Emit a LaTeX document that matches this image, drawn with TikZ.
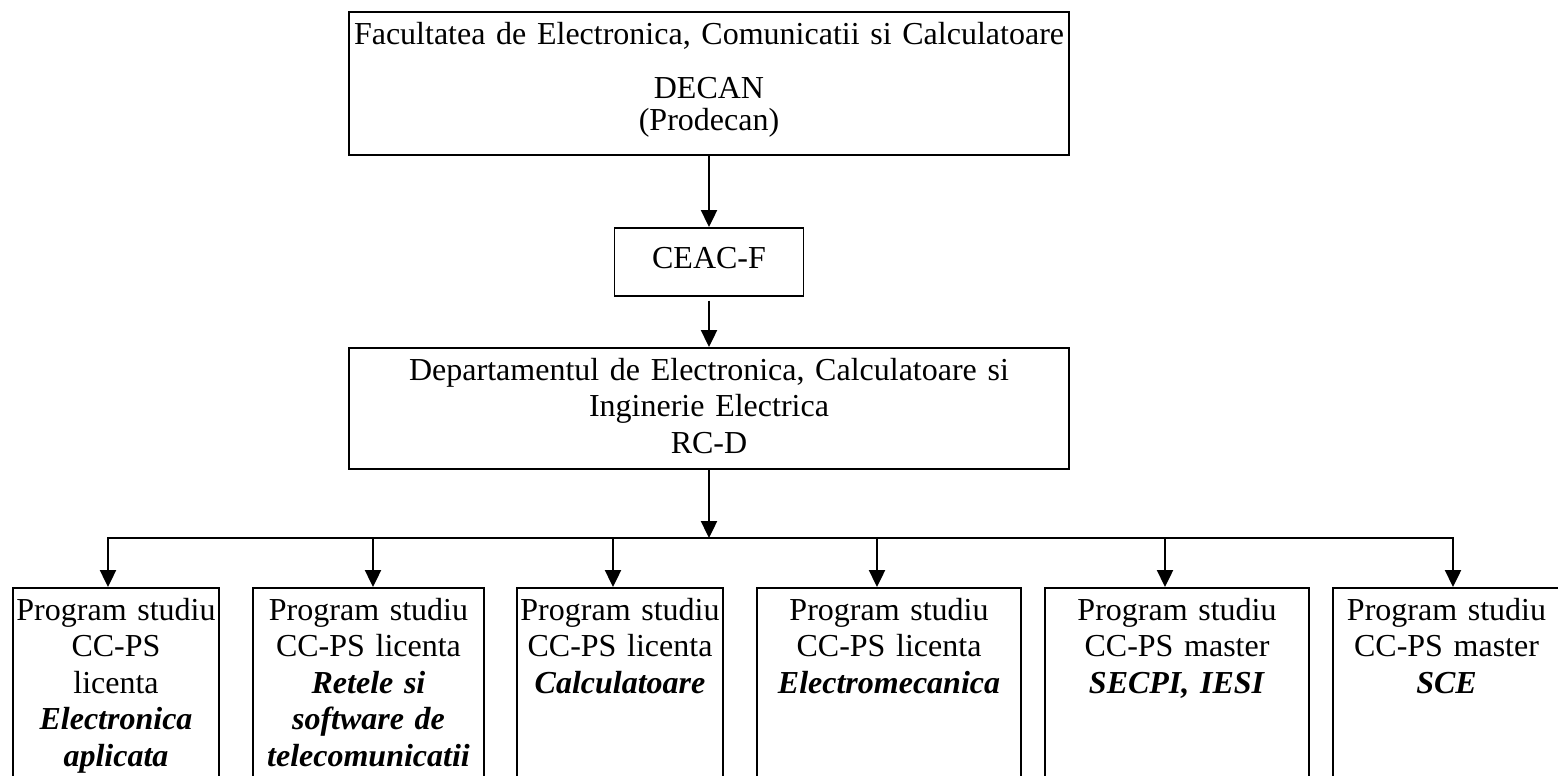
\documentclass[tikz,border=0pt]{standalone}
\usepackage{fontspec}
\setmainfont{Liberation Serif}
\usetikzlibrary{arrows.meta}

\newcommand{\progname}[1]{\textbf{\textit{#1}}}
\hyphenpenalty=10000

\begin{document}
\begin{tikzpicture}[x=1pt, y=-1pt]
    \tikzset{
        box/.style={draw, line width=1.6pt, align=center, anchor=north, inner xsep=0pt, inner ysep=10pt,
            font=\fontsize{32}{36.5}\selectfont},
        prog/.style={box, text depth=200pt},
        arc/.style={-{Triangle[width=16pt,length=17pt]}, line width=2.4pt}
    }
    \useasboundingbox (0,0) rectangle (1558,776);
    \clip (0,0) rectangle (1558,776);

    \draw node[box, text width=720pt, text depth=101pt] (fac) at (709,11)
        {Facultatea de Electronica, Comunicatii si Calculatoare\\[18pt] DECAN\\[-5pt] (Prodecan)};
    \draw node[box, minimum width=189pt, minimum height=68pt, inner ysep=0pt, text depth=8pt] (ceac) at (709,227) {CEAC-F};
    \draw node[box, text width=720pt, text depth=79pt] (dep) at (709,347)
        {Departamentul de Electronica, Calculatoare si\\ Inginerie Electrica\\ RC-D};

    % programe de studiu
    \draw node[prog, text width=206pt] (ps1) at (116,587)
        {Program studiu\\ CC-PS\\ licenta\\ \progname{Electronica}\\ \progname{aplicata}};
    \draw node[prog, text width=231pt] (ps2) at (368.5,587)
        {Program studiu\\ CC-PS licenta\\ \progname{Retele si}\\ \progname{software de}\\ \progname{telecomunicatii}};
    \draw node[prog, text width=206pt] (ps3) at (620,587)
        {Program studiu\\ CC-PS licenta\\ \progname{Calculatoare}};
    \draw node[prog, text width=264pt] (ps4) at (889,587)
        {Program studiu\\ CC-PS licenta\\ \progname{Electromecanica}};
    \draw node[prog, text width=264pt] (ps5) at (1177,587)
        {Program studiu\\ CC-PS master\\ \progname{SECPI, IESI}};
    \draw node[prog, text width=227pt] (ps6) at (1446.5,587)
        {Program studiu\\ CC-PS master\\ \progname{SCE}};

    \coordinate (hub) at (709,538);
    \coordinate (x1) at (108,538);
    \coordinate (x2) at (373,538);
    \coordinate (x3) at (613,538);
    \coordinate (x4) at (877,538);
    \coordinate (x5) at (1165,538);
    \coordinate (x6) at (1453,538);

    \draw[arc] (fac.south) -- (ceac.north);
    \draw[arc, shorten <=4pt] (ceac.south) -- (dep.north);
    \draw[arc] (dep.south) -- (hub);
    \foreach \i in {1,...,6}{
        \draw[arc] (hub) -| (x\i |- ps\i.north);
    }
\end{tikzpicture}
\end{document}
